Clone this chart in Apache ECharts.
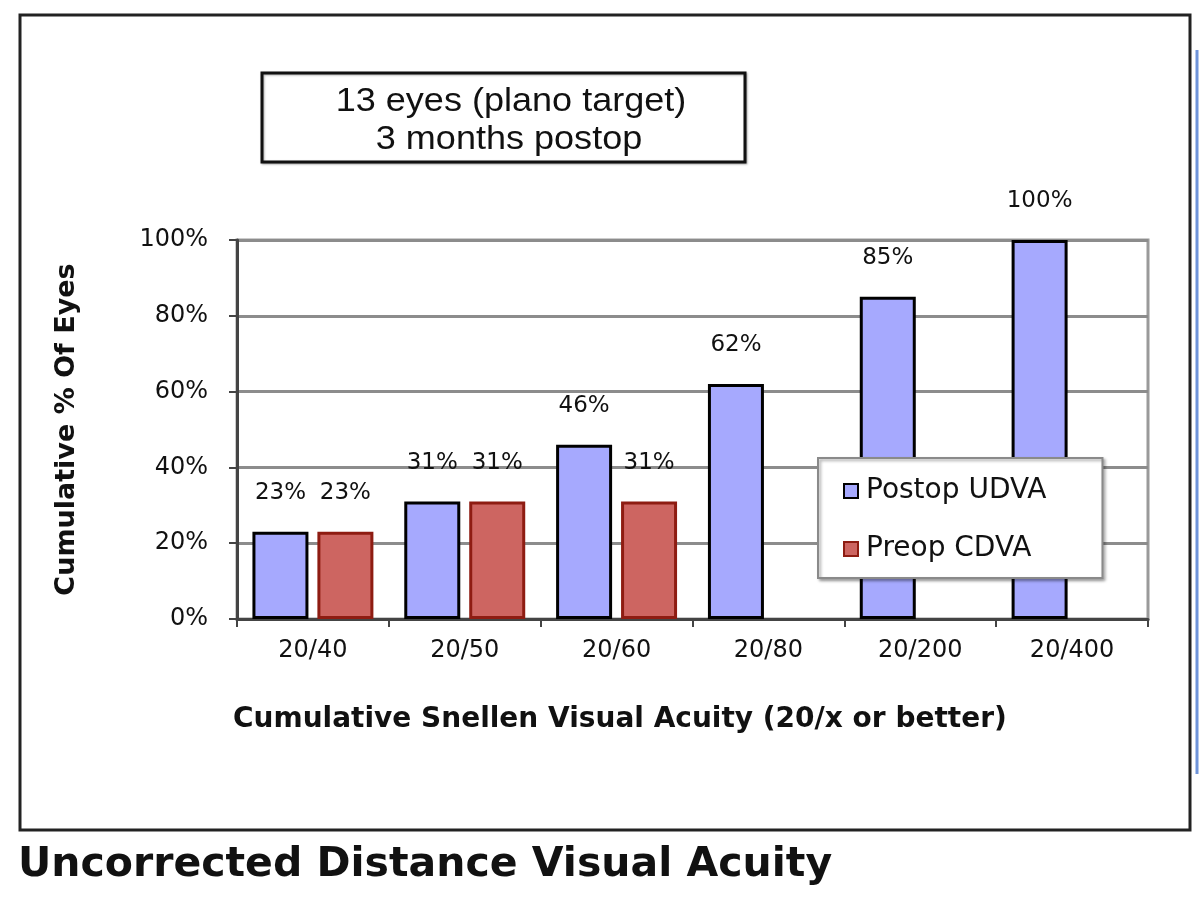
<!DOCTYPE html>
<html>
<head>
<meta charset="utf-8">
<script src="https://cdn.jsdelivr.net/npm/echarts@6/dist/echarts.min.js"></script>
<style>
html,body{margin:0;padding:0;background:#fff;}
#chart{width:1200px;height:900px;}
</style>
</head>
<body>
<div id="chart"></div>
<script>
// ---- data ----
var categories = ['20/40', '20/50', '20/60', '20/80', '20/200', '20/400'];
var postopUDVA = [23, 31, 46, 62, 85, 100];
var preopCDVA = [23, 31, 31, null, null, null];
var yTicks = [0, 20, 40, 60, 80, 100];
var seriesNames = ['Postop UDVA', 'Preop CDVA'];
var titleText = 'Uncorrected Distance Visual Acuity';
var noteLines = ['13 eyes (plano target)', '3 months postop'];
var xAxisTitle = 'Cumulative Snellen Visual Acuity (20/x or better)';
var yAxisTitle = 'Cumulative % Of Eyes';

var chart = echarts.init(document.getElementById('chart'));
var tickFont = 'DejaVu Sans';
var option = {
  backgroundColor: '#ffffff',
  animation: false,
  title: {
    text: titleText,
    left: 18,
    top: 845,
    padding: 0,
    textStyle: {fontFamily: 'DejaVu Sans', fontWeight: 'bold', fontSize: 41, color: '#111'}
  },
  legend: {
    orient: 'vertical',
    left: 818,
    top: 458,
    data: seriesNames,
    icon: 'rect',
    itemWidth: 14,
    itemHeight: 14,
    itemGap: 30,
    padding: [19, 56, 15, 25],
    backgroundColor: '#fff',
    borderColor: '#8a8a8a',
    borderWidth: 2,
    shadowColor: 'rgba(0,0,0,0.35)',
    shadowBlur: 3,
    shadowOffsetX: 2,
    shadowOffsetY: 2,
    textStyle: {fontFamily: tickFont, fontSize: 28, color: '#111', padding: [0, 0, 0, 3]}
  },
  grid: {
    left: 237, right: 52, top: 240, bottom: 281,
    show: true,
    borderColor: '#9a9a9a',
    borderWidth: 3,
    containLabel: false
  },
  xAxis: {
    type: 'category',
    data: categories,
    axisLine: {show: true, lineStyle: {color: '#444', width: 3}},
    axisTick: {show: true, length: 8, interval: 0, alignWithLabel: false, lineStyle: {color: '#444', width: 2}},
    axisLabel: {margin: 20, fontFamily: tickFont, fontSize: 24, color: '#111', interval: 0},
    splitLine: {show: false}
  },
  yAxis: {
    type: 'value',
    min: 0,
    max: 100,
    interval: 20,
    name: yAxisTitle,
    nameLocation: 'middle',
    nameGap: 157,
    nameTextStyle: {fontFamily: 'DejaVu Sans', fontWeight: 'bold', fontSize: 27, color: '#111'},
    axisLine: {show: true, lineStyle: {color: '#444', width: 3}},
    axisTick: {show: true, length: 8, lineStyle: {color: '#444', width: 2}},
    axisLabel: {
      margin: 29, fontFamily: tickFont, fontSize: 24, color: '#111',
      formatter: function (v) { return yTicks.indexOf(v) >= 0 ? v + '%' : ''; }
    },
    splitLine: {show: true, lineStyle: {color: '#8c8c8c', width: 3}}
  },
  series: [
    {
      name: seriesNames[0],
      type: 'bar',
      data: postopUDVA,
      barWidth: 56,
      barGap: '16%',
      itemStyle: {color: '#A6A9FE', borderColor: '#000', borderWidth: 3},
      label: {show: true, position: 'top', distance: 27, formatter: '{c}%',
              fontFamily: tickFont, fontSize: 23, color: '#111'}
    },
    {
      name: seriesNames[1],
      type: 'bar',
      data: preopCDVA,
      barWidth: 56,
      barGap: '16%',
      itemStyle: {color: '#CD6561', borderColor: '#8E1C12', borderWidth: 3},
      label: {show: true, position: 'top', distance: 27, formatter: '{c}%',
              fontFamily: tickFont, fontSize: 23, color: '#111'}
    }
  ],
  graphic: [
    {
      type: 'rect',
      shape: {x: 20, y: 15, width: 1170, height: 815},
      style: {fill: 'none', stroke: '#222', lineWidth: 3},
      silent: true, z: 100
    },
    {
      type: 'line',
      shape: {x1: 1197, y1: 50, x2: 1197, y2: 774},
      style: {stroke: '#6F94DA', lineWidth: 3},
      silent: true
    },
    {
      type: 'rect',
      shape: {x: 262, y: 73, width: 483, height: 89},
      style: {fill: '#fff', stroke: '#111', lineWidth: 3,
              shadowColor: 'rgba(0,0,0,0.3)', shadowBlur: 2, shadowOffsetX: 1, shadowOffsetY: 1},
      silent: true
    },
    {
      type: 'text',
      x: 511, y: 102, scaleX: 1.06,
      style: {text: noteLines[0], x: 0, y: 0, align: 'center', verticalAlign: 'middle',
              fontFamily: 'Liberation Sans', fontSize: 34, fill: '#111'},
      silent: true
    },
    {
      type: 'text',
      x: 509, y: 140, scaleX: 1.06,
      style: {text: noteLines[1], x: 0, y: 0, align: 'center', verticalAlign: 'middle',
              fontFamily: 'Liberation Sans', fontSize: 34, fill: '#111'},
      silent: true
    },
    {
      type: 'text',
      x: 233, y: 720,
      style: {text: xAxisTitle, x: 0, y: 0, align: 'left', verticalAlign: 'middle',
              fontFamily: 'DejaVu Sans', fontWeight: 'bold', fontSize: 28, fill: '#111'},
      silent: true
    }
  ]
};
chart.setOption(option);
</script>
</body>
</html>
